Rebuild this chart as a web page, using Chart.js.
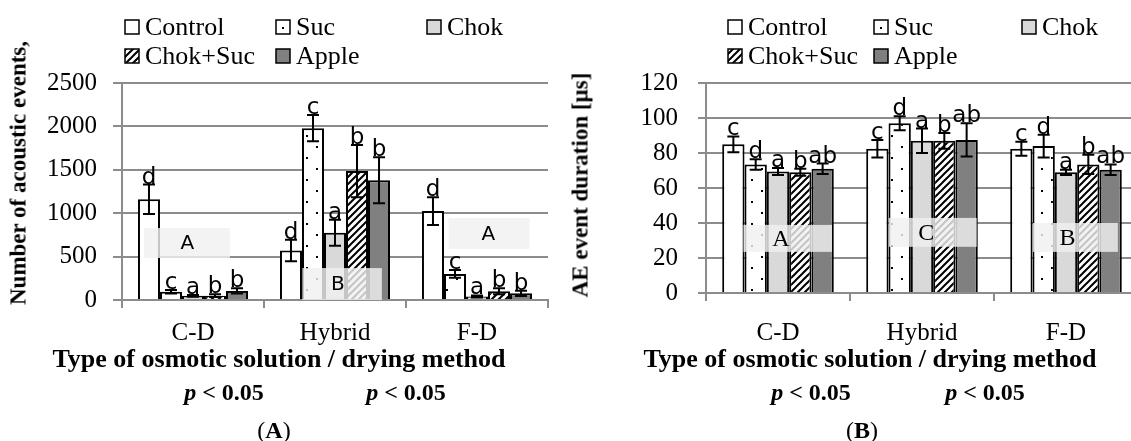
<!DOCTYPE html>
<html lang="en">
<head>
<meta charset="UTF-8">
<title>Acoustic emission of dried apple</title>
<style>
    body {
        margin: 0;
        width: 1131px;
        height: 441px;
        overflow: hidden;
        position: relative;
        background: #fff;
        font-family: "Liberation Serif", serif;
    }
    .wrap { position: absolute; top: 0; height: 441px; }
    #wrapA { left: 0; width: 565px; }
    #wrapB { left: 565px; width: 600px; }
    .lbl {
        position: absolute;
        white-space: nowrap;
        transform: translate(-50%, -50%);
        font-size: 24px;
        font-weight: bold;
        line-height: 1;
        color: #000;
    }
    .ttl { font-size: 26px; }
    .rot { transform: translate(-50%, -50%) rotate(-90deg); font-size: 23px; }
    .plain { font-weight: normal; }
</style>
</head>
<body>
<div class="wrap" id="wrapA"><canvas id="chartA" width="565" height="441"></canvas></div>
<div class="wrap" id="wrapB"><canvas id="chartB" width="600" height="441"></canvas></div>

<div class="lbl rot" style="left:18px; top:173px;">Number of acoustic events,</div>
<div class="lbl rot" style="left:580px; top:185px;">AE event duration [µs]</div>
<div class="lbl ttl" style="left:279px; top:359px;">Type of osmotic solution / drying method</div>
<div class="lbl ttl" style="left:870px; top:359px;">Type of osmotic solution / drying method</div>
<div class="lbl" style="left:224px; top:392px;"><i>p</i> &lt; 0.05</div>
<div class="lbl" style="left:406px; top:392px;"><i>p</i> &lt; 0.05</div>
<div class="lbl" style="left:811px; top:392px;"><i>p</i> &lt; 0.05</div>
<div class="lbl" style="left:985px; top:392px;"><i>p</i> &lt; 0.05</div>
<div class="lbl plain" style="left:274px; top:430px;">(<b>A</b>)</div>
<div class="lbl plain" style="left:862px; top:430px;">(<b>B</b>)</div>

<script src="https://cdn.jsdelivr.net/npm/chart.js"></script>
<script>
    const categories = ['C-D', 'Hybrid', 'F-D'];
    const seriesNames = ['Control', 'Suc', 'Chok', 'Chok+Suc', 'Apple'];

    // (A) number of acoustic events
    const eventsControl = [1160, 570, 1025];
    const eventsSuc = [95, 1980, 300];
    const eventsChok = [48, 775, 40];
    const eventsChokSuc = [50, 1485, 100];
    const eventsApple = [105, 1380, 77];
    const eventsErrControl = [170, 125, 160];
    const eventsErrSuc = [20, 150, 45];
    const eventsErrChok = [10, 150, 12];
    const eventsErrChokSuc = [15, 300, 35];
    const eventsErrApple = [30, 265, 30];
    const eventsLetters = ['d', 'c', 'a', 'b', 'b'];
    const eventsGroupLetters = ['A', 'B', 'A'];

    // (B) AE event duration
    const durControl = [85, 82.5, 82.5];
    const durSuc = [73.5, 97, 84];
    const durChok = [69.5, 87, 69];
    const durChokSuc = [69, 87, 73.5];
    const durApple = [71, 87.5, 70.5];
    const durErrControl = [4.5, 5, 4];
    const durErrSuc = [3, 4, 6.5];
    const durErrChok = [2, 7, 1.5];
    const durErrChokSuc = [2, 4.5, 5.5];
    const durErrApple = [3, 9.5, 3];
    const durLetters = ['c', 'd', 'a', 'b', 'ab'];
    const durGroupLetters = ['A', 'C', 'B'];

    const GRID = '#8c8c8c';
    const SERIF = '"Liberation Serif", serif';

    function dotPattern() {
        const c = document.createElement('canvas');
        c.width = 20; c.height = 22;
        const g = c.getContext('2d');
        g.fillStyle = '#fff'; g.fillRect(0, 0, 20, 22);
        g.fillStyle = '#000';
        g.fillRect(6, 3, 2, 2);
        g.fillRect(16, 14, 2, 2);
        return g.createPattern(c, 'repeat');
    }
    function hatchPattern() {
        const s = 7;
        const c = document.createElement('canvas');
        c.width = s; c.height = s;
        const g = c.getContext('2d');
        g.fillStyle = '#fff'; g.fillRect(0, 0, s, s);
        g.strokeStyle = '#000'; g.lineWidth = 2;
        g.beginPath();
        g.moveTo(-1, s + 1); g.lineTo(s + 1, -1);
        g.moveTo(-1, 1); g.lineTo(1, -1);
        g.moveTo(s - 1, s + 1); g.lineTo(s + 1, s - 1);
        g.stroke();
        return g.createPattern(c, 'repeat');
    }
    const fills = ['#ffffff', dotPattern(), '#d9d9d9', hatchPattern(), '#808080'];

    const overlayPlugin = {
        id: 'overlay',
        afterDatasetsDraw(chart, args, opts) {
            const ctx = chart.ctx;
            const xs = chart.scales.x, ys = chart.scales.y;
            const cw = xs.getPixelForValue(1) - xs.getPixelForValue(0);
            // shaded group boxes
            opts.boxes.forEach((b, j) => {
                const cx = xs.getPixelForValue(j);
                const x0 = cx + b.x0 * cw, x1 = cx + b.x1 * cw;
                const y0 = ys.getPixelForValue(b.y1), y1 = ys.getPixelForValue(b.y0);
                ctx.save();
                ctx.fillStyle = 'rgba(240,240,240,0.82)';
                ctx.fillRect(x0, y0, x1 - x0, y1 - y0);
                ctx.fillStyle = '#000';
                ctx.font = opts.boxFont;
                ctx.textAlign = 'center';
                ctx.textBaseline = 'middle';
                ctx.fillText(opts.groupLetters[j], cx + b.tx * cw, (y0 + y1) / 2 + 1);
                ctx.restore();
            });
            // error bars and letters
            chart.data.datasets.forEach((ds, i) => {
                const meta = chart.getDatasetMeta(i);
                meta.data.forEach((bar, j) => {
                    const v = ds.data[j], e = ds.errors[j];
                    const top = ys.getPixelForValue(v + e);
                    const bot = ys.getPixelForValue(Math.max(0, v - e));
                    ctx.save();
                    ctx.strokeStyle = '#000';
                    ctx.lineWidth = 2;
                    ctx.beginPath();
                    ctx.moveTo(bar.x, top); ctx.lineTo(bar.x, bot);
                    ctx.moveTo(bar.x - 6, top); ctx.lineTo(bar.x + 6, top);
                    ctx.moveTo(bar.x - 6, bot); ctx.lineTo(bar.x + 6, bot);
                    ctx.stroke();
                    ctx.fillStyle = '#000';
                    ctx.font = '23px "DejaVu Sans"';
                    ctx.textAlign = 'center';
                    ctx.textBaseline = 'alphabetic';
                    ctx.fillText(ds.letter, bar.x, top - 1);
                    ctx.restore();
                });
            });
        },
        afterDraw(chart, args, opts) {
            // legend laid out in fixed columns
            const ctx = chart.ctx;
            chart.data.datasets.forEach((ds, i) => {
                const x = opts.legendX[i % 3];
                const y = opts.legendY[Math.floor(i / 3)];
                ctx.save();
                ctx.fillStyle = i === 1 ? '#fff' : ds.backgroundColor;
                ctx.fillRect(x, y - 7, 14, 14);
                if (i === 1) {
                    ctx.fillStyle = '#000';
                    ctx.fillRect(x + 6, y, 2, 2);
                }
                ctx.strokeStyle = '#000';
                ctx.lineWidth = 1.5;
                ctx.strokeRect(x, y - 7, 14, 14);
                ctx.fillStyle = '#000';
                ctx.font = '26px ' + SERIF;
                ctx.textAlign = 'left';
                ctx.textBaseline = 'middle';
                ctx.fillText(ds.label, x + 20, y + 1);
                ctx.restore();
            });
        }
    };

    function makeChart(id, values, errors, letters, groupLetters, yMax, yStep, cfg) {
        const datasets = seriesNames.map((name, i) => ({
            label: name,
            data: values[i],
            errors: errors[i],
            letter: letters[i],
            backgroundColor: fills[i],
            borderColor: '#000',
            borderWidth: 2,
            borderSkipped: 'bottom',
            barPercentage: 1,
            categoryPercentage: 0.775
        }));
        return new Chart(document.getElementById(id), {
            type: 'bar',
            data: { labels: categories, datasets: datasets },
            plugins: [overlayPlugin],
            options: {
                responsive: false,
                animation: false,
                layout: { padding: cfg.padding },
                plugins: {
                    legend: { display: false },
                    tooltip: { enabled: false },
                    overlay: {
                        boxes: cfg.boxes,
                        groupLetters: groupLetters,
                        boxFont: cfg.boxFont,
                        legendX: cfg.legendX,
                        legendY: [27, 56]
                    }
                },
                scales: {
                    x: {
                        afterFit: s => { s.height = 70; },
                        grid: { offset: true, drawOnChartArea: false, color: GRID, lineWidth: 2, tickLength: 8 },
                        border: { color: GRID, width: 2 },
                        ticks: { color: '#000', font: { family: SERIF, size: 25 }, padding: cfg.xPad }
                    },
                    y: {
                        min: 0,
                        max: yMax,
                        afterFit: s => { s.width = cfg.yWidth; },
                        grid: { color: GRID, lineWidth: 2, tickLength: cfg.yTick },
                        border: { color: GRID, width: 2 },
                        ticks: {
                            stepSize: yStep,
                            color: '#000',
                            font: { family: SERIF, size: 25 },
                            padding: cfg.yPad,
                            callback: v => String(v)
                        }
                    }
                }
            }
        });
    }

    makeChart('chartA',
        [eventsControl, eventsSuc, eventsChok, eventsChokSuc, eventsApple],
        [eventsErrControl, eventsErrSuc, eventsErrChok, eventsErrChokSuc, eventsErrApple],
        eventsLetters, eventsGroupLetters, 2500, 500, {
            padding: { top: 83, right: 17, bottom: 71, left: 0 },
            yWidth: 122, yTick: 9, yPad: 16, xPad: 10,
            legendX: [125, 276, 427],
            boxFont: '20px "DejaVu Sans"',
            boxes: [
                { x0: -0.345, x1: 0.26, y0: 484, y1: 829, tx: -0.04 },
                { x0: -0.23, x1: 0.33, y0: 0, y1: 368, tx: 0.02 },
                { x0: -0.2, x1: 0.37, y0: 588, y1: 945, tx: 0.08 }
            ]
        });

    makeChart('chartB',
        [durControl, durSuc, durChok, durChokSuc, durApple],
        [durErrControl, durErrSuc, durErrChok, durErrChokSuc, durErrApple],
        durLetters, durGroupLetters, 120, 20, {
            padding: { top: 83, right: 27, bottom: 78, left: 0 },
            yWidth: 141, yTick: 8, yPad: 20, xPad: 17,
            legendX: [163, 309, 457],
            boxFont: '24px "Liberation Serif"',
            boxes: [
                { x0: -0.24, x1: 0.375, y0: 23.5, y1: 38.9, tx: 0.02 },
                { x0: -0.23, x1: 0.38, y0: 26.4, y1: 42.9, tx: 0.03 },
                { x0: -0.23, x1: 0.36, y0: 23.5, y1: 40, tx: 0.01 }
            ]
        });
</script>
</body>
</html>
